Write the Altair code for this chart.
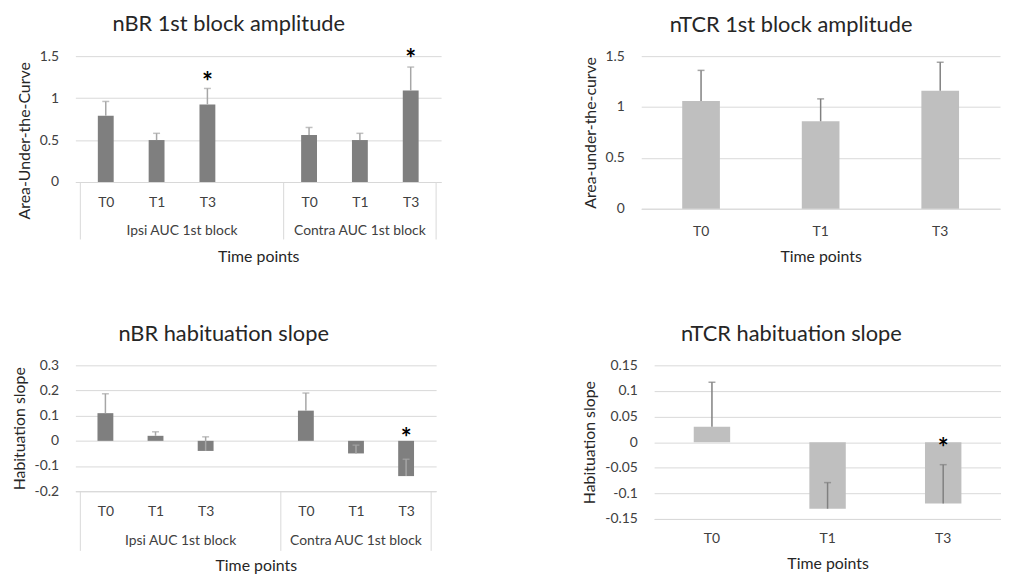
import altair as alt
import pandas as pd

FONT = "Lato"
TXT = "#404040"
TTL = "#262626"
GRID = "#d9d9d9"

# ---- categories ----
time_labels = ["T0", "T1", "T3"]
nbr_group_names = ["Ipsi AUC 1st block", "Contra AUC 1st block"]
nbr_time = ["T0", "T1", "T3", "T0", "T1", "T3"]
nbr_slot = [0, 1, 2, 4, 5, 6]          # Excel category slot (blank slot after Ipsi)
n_slots = 7
nbr_group_center = [2, 5.5]
nbr_group_edges = [0, 4, 7]

# ---- nBR 1st block amplitude ----
nbr_amp = [0.79, 0.50, 0.925, 0.56, 0.50, 1.09]
nbr_amp_err = [0.17, 0.08, 0.19, 0.09, 0.08, 0.28]
nbr_amp_star_slot = [2, 6]
nbr_amp_star_y = [1.26, 1.535]

# ---- nBR habituation slope ----
nbr_slope = [0.11, 0.02, -0.04, 0.12, -0.05, -0.14]
nbr_slope_err = [0.077, 0.016, 0.056, 0.07, 0.033, 0.067]
nbr_slope_star_slot = [6]
nbr_slope_star_y = [0.035]

# ---- nTCR ----
ntcr_amp = [1.06, 0.86, 1.16]
ntcr_amp_err = [0.30, 0.22, 0.28]
ntcr_amp_star_time = []
ntcr_amp_star_y = []
ntcr_slope = [0.03, -0.13, -0.12]
ntcr_slope_err = [0.087, 0.051, 0.076]
ntcr_slope_star_time = ["T3"]
ntcr_slope_star_y = [0.0]


def title_params(text, offset):
    return alt.TitleParams(text, font=FONT, fontSize=22, fontWeight="normal",
                           color=TTL, anchor="middle", frame="bounds",
                           offset=offset)


def y_axis(title, values, title_y=None):
    kw = {}
    if title_y is not None:
        kw["titleY"] = title_y
    return alt.Axis(values=values, title=title, labelExpr="'' + datum.value",
                    grid=True, gridColor=GRID, gridWidth=1, domain=False,
                    ticks=False, tickSize=0, labelPadding=17, titlePadding=7,
                    **kw)


def star_layer(df, X, ys, yax):
    return alt.Chart(df).mark_text(font=FONT, fontSize=26, fontWeight="bold",
                                   color="#000000", baseline="middle",
                                   dy=7).encode(
        x=X, y=alt.Y("y:Q", scale=ys, axis=yax), text="t:N")


def nbr_panel(vals, errs, star_slot, star_y, title, ytitle, ydom, yvals,
              w, h, group_y, sep_bottom, title_offset, title_y=None):
    df = pd.DataFrame({
        "pos": [s + 0.5 for s in nbr_slot],
        "v": vals,
        "hi": [v + e for v, e in zip(vals, errs)],
    })
    names = [""] * n_slots
    for s, t in zip(nbr_slot, nbr_time):
        names[s] = t
    label_expr = "[" + ",".join("'%s'" % n for n in names) + "][floor(datum.value)]"
    xs = alt.Scale(domain=[0, n_slots], nice=False, zero=False)
    ys = alt.Scale(domain=ydom, nice=False, zero=False)
    xax = alt.Axis(values=[s + 0.5 for s in nbr_slot], labelExpr=label_expr,
                   title="Time points", grid=False, ticks=False, tickSize=0,
                   labelPadding=14, titlePadding=39, domainColor=GRID,
                   labelAngle=0)
    yax = y_axis(ytitle, yvals, title_y)
    X = alt.X("pos:Q", scale=xs, axis=xax)
    base = alt.Chart(df)
    bars = base.mark_bar(width=16, color="#7f7f7f").encode(
        x=X, y=alt.Y("v:Q", scale=ys, axis=yax), y2=alt.datum(0))
    err = base.mark_rule(color="#a6a6a6", strokeWidth=1.5).encode(
        x=X, y=alt.Y("v:Q", scale=ys, axis=yax), y2="hi:Q")
    cap = base.mark_tick(orient="horizontal", size=7, thickness=1.5,
                         color="#a6a6a6").encode(
        x=X, y=alt.Y("hi:Q", scale=ys, axis=yax))
    sep_df = pd.DataFrame({"pos": nbr_group_edges,
                           "y0": [ydom[0]] * len(nbr_group_edges),
                           "y1": [sep_bottom] * len(nbr_group_edges)})
    seps = alt.Chart(sep_df).mark_rule(color=GRID, strokeWidth=1).encode(
        x=X, y=alt.Y("y0:Q", scale=ys, axis=yax), y2="y1:Q")
    grp_df = pd.DataFrame({"pos": nbr_group_center, "name": nbr_group_names,
                           "y": [group_y] * 2})
    grps = alt.Chart(grp_df).mark_text(font=FONT, fontSize=14, color=TXT,
                                       baseline="middle").encode(
        x=X, y=alt.Y("y:Q", scale=ys, axis=yax), text="name:N")
    st_df = pd.DataFrame({"pos": [s + 0.5 for s in star_slot], "y": star_y,
                          "t": ["*"] * len(star_y)})
    stars = star_layer(st_df, X, ys, yax)
    return alt.layer(bars, err, cap, seps, grps, stars).properties(
        width=w, height=h, title=title_params(title, title_offset))


def ntcr_panel(vals, errs, star_t, star_y, title, ytitle, ydom, yvals, w, h,
               title_offset, label_pad=13):
    df = pd.DataFrame({
        "time": time_labels,
        "v": vals,
        "hi": [v + e for v, e in zip(vals, errs)],
    })
    xs = alt.Scale(domain=time_labels, paddingInner=0.685, paddingOuter=0.3425)
    ys = alt.Scale(domain=ydom, nice=False, zero=False)
    xax = alt.Axis(title="Time points", grid=False, ticks=False, tickSize=0,
                   labelPadding=label_pad, titlePadding=10, domainColor=GRID,
                   labelAngle=0)
    yax = y_axis(ytitle, yvals)
    X = alt.X("time:N", scale=xs, axis=xax, sort=time_labels)
    base = alt.Chart(df)
    bars = base.mark_bar(color="#bfbfbf").encode(
        x=X, y=alt.Y("v:Q", scale=ys, axis=yax), y2=alt.datum(0))
    err = base.mark_rule(color="#808080", strokeWidth=1.5).encode(
        x=X, y=alt.Y("v:Q", scale=ys, axis=yax), y2="hi:Q")
    cap = base.mark_tick(orient="horizontal", size=7, thickness=1.5,
                         color="#808080").encode(
        x=X, y=alt.Y("hi:Q", scale=ys, axis=yax))
    layers = [bars, err, cap]
    if star_y:
        st_df = pd.DataFrame({"time": star_t, "y": star_y,
                              "t": ["*"] * len(star_y)})
        layers.append(star_layer(st_df, X, ys, yax))
    return alt.layer(*layers).properties(width=w, height=h,
                                         title=title_params(title, title_offset))


p1 = nbr_panel(nbr_amp, nbr_amp_err, nbr_amp_star_slot, nbr_amp_star_y,
               "nBR 1st block amplitude", "Area-Under-the-Curve",
               [0, 1.5], [0, 0.5, 1, 1.5], 369, 127, -0.59, -0.685,
               title_offset=11, title_y=85)
p2 = ntcr_panel(ntcr_amp, ntcr_amp_err, ntcr_amp_star_time, ntcr_amp_star_y,
                "nTCR 1st block amplitude", "Area-under-the-curve",
                [0, 1.5], [0, 0.5, 1, 1.5], 362, 154, title_offset=12,
                label_pad=16)
p3 = nbr_panel(nbr_slope, nbr_slope_err, nbr_slope_star_slot, nbr_slope_star_y,
               "nBR habituation slope", "Habituation slope",
               [-0.2, 0.3], [-0.2, -0.1, 0, 0.1, 0.2, 0.3], 364, 127,
               -0.397, -0.437, title_offset=13)
p4 = ntcr_panel(ntcr_slope, ntcr_slope_err, ntcr_slope_star_time,
                ntcr_slope_star_y, "nTCR habituation slope", "Habituation slope",
                [-0.15, 0.15], [-0.15, -0.1, -0.05, 0, 0.05, 0.1, 0.15], 350, 155,
                title_offset=13)

chart = alt.vconcat(
    alt.hconcat(p1, p2, spacing=142),
    alt.hconcat(p3, p4, spacing=147),
    spacing=59,
).properties(
    padding={"left": 3, "top": 3, "right": 0, "bottom": 0},
    background="white",
).configure_view(stroke=None).configure_axis(
    labelFont=FONT, titleFont=FONT, labelFontSize=14, titleFontSize=16,
    labelColor=TXT, titleColor=TTL, titleFontWeight="normal",
)

chart.save("out.html", embed_options={"renderer": "svg", "actions": False})
